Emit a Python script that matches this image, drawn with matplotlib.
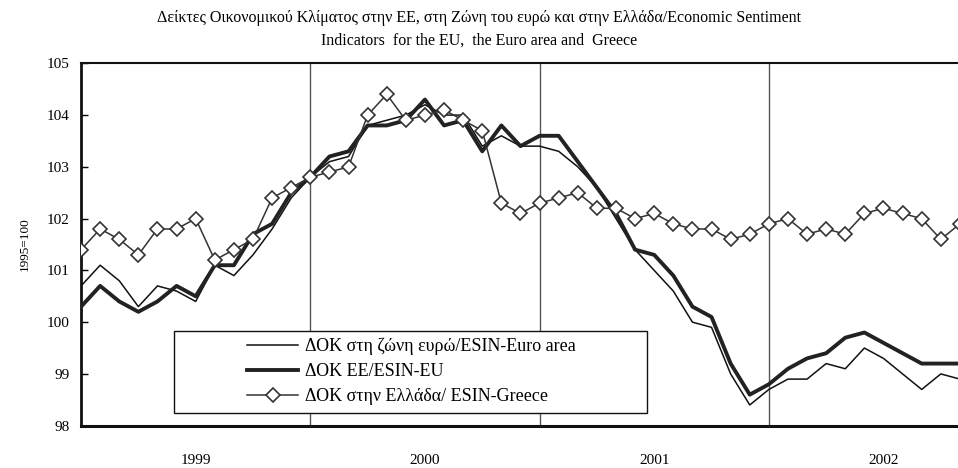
import matplotlib.pyplot as plt
import matplotlib.patches as mpatches
import numpy as np

plt.rcParams['font.family'] = ['Liberation Serif', 'DejaVu Serif']

# monthly values, Jan 1999 onwards (last point cut off by the frame)
euro_area = [100.7, 101.1, 100.8, 100.3, 100.7, 100.6, 100.4, 101.1, 100.9, 101.3,
             101.8, 102.4, 102.8, 103.1, 103.2, 103.8, 103.9, 104.0, 104.2, 104.0,
             104.0, 103.4, 103.6, 103.4, 103.4, 103.3, 103.0, 102.6, 102.0, 101.4,
             101.0, 100.6, 100.0, 99.9, 99.0, 98.4, 98.7, 98.9, 98.9, 99.2,
             99.1, 99.5, 99.3, 99.0, 98.7, 99.0, 98.9]
eu = [100.3, 100.7, 100.4, 100.2, 100.4, 100.7, 100.5, 101.1, 101.1, 101.7,
      101.9, 102.5, 102.8, 103.2, 103.3, 103.8, 103.8, 103.9, 104.3, 103.8,
      103.9, 103.3, 103.8, 103.4, 103.6, 103.6, 103.1, 102.6, 102.1, 101.4,
      101.3, 100.9, 100.3, 100.1, 99.2, 98.6, 98.8, 99.1, 99.3, 99.4,
      99.7, 99.8, 99.6, 99.4, 99.2, 99.2, 99.2]
greece = [101.4, 101.8, 101.6, 101.3, 101.8, 101.8, 102.0, 101.2, 101.4, 101.6,
          102.4, 102.6, 102.8, 102.9, 103.0, 104.0, 104.4, 103.9, 104.0, 104.1,
          103.9, 103.7, 102.3, 102.1, 102.3, 102.4, 102.5, 102.2, 102.2, 102.0,
          102.1, 101.9, 101.8, 101.8, 101.6, 101.7, 101.9, 102.0, 101.7, 101.8,
          101.7, 102.1, 102.2, 102.1, 102.0, 101.6, 101.9]
years = ['1999', '2000', '2001', '2002']

x = np.arange(len(eu))

fig = plt.figure(figsize=(9.58, 4.68), dpi=100)
ax = fig.add_axes([0.0846, 0.0904, 0.9154, 0.7743])

for b in [12, 24, 36]:
    ax.axvline(b, color='#555555', lw=1.0, zorder=1)

ax.plot(x, euro_area, color='#111111', lw=1.1, label='ΔΟΚ στη ζώνη ευρώ/ESIN-Euro area', zorder=3)
ax.plot(x, eu, color='#222222', lw=2.8, label='ΔΟΚ ΕΕ/ESIN-EU', zorder=3)
ax.plot(x, greece, color='#333333', lw=1.1, marker='D', ms=7, mfc='white', mec='#333333',
        mew=1.2, label='ΔΟΚ στην Ελλάδα/ ESIN-Greece', zorder=4)

ax.set_xlim(0, 45.9)
ax.set_ylim(98, 105)
ax.set_yticks(range(98, 106))
ax.set_xticks([])
ax.tick_params(axis='y', direction='in', length=5, width=1, labelsize=11, pad=8)
ax.set_ylabel('1995=100', fontsize=9.5, labelpad=12)

for i, y in enumerate(years):
    ax.text(6 + 12 * i, -0.095, y, transform=ax.get_xaxis_transform(), ha='center', va='center', fontsize=11)

ax.spines['right'].set_visible(False)
ax.spines['left'].set_linewidth(2.0)
ax.spines['bottom'].set_linewidth(2.2)
ax.spines['top'].set_linewidth(1.5)
for s in ax.spines.values():
    s.set_color('#111111')

# legend frame drawn separately, entries centred inside it
box = mpatches.Rectangle((0.106, 0.035), 0.539, 0.227, transform=ax.transAxes, fill=True,
                         facecolor='white', edgecolor='#111111', lw=1.0, zorder=5)
ax.add_patch(box)
leg = ax.legend(loc='center', bbox_to_anchor=(0.377, 0.150), fontsize=13, frameon=False,
                handlelength=2.8, handletextpad=0.4, labelspacing=0.45, borderpad=0)
leg.set_zorder(6)

fig.text(0.5, 0.962, 'Δείκτες Οικονομικού Κλίματος στην ΕΕ, στη Ζώνη του ευρώ και στην Ελλάδα/Economic Sentiment',
         ha='center', va='center', fontsize=11.5)
fig.text(0.5, 0.913, 'Indicators  for the EU,  the Euro area and  Greece', ha='center', va='center', fontsize=11.5)

fig.savefig('out.png', dpi=100)
